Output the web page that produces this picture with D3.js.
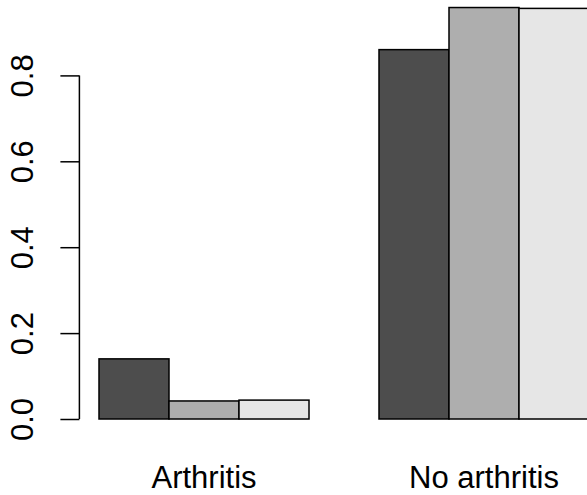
<!DOCTYPE html>
<html>
<head>
<meta charset="utf-8">
<script src="https://cdn.jsdelivr.net/npm/d3@7"></script>
<style>
  body { margin: 0; background: #fff; }
  text { font-family: "Liberation Sans", Arial, Helvetica, sans-serif; fill: #000; }
</style>
</head>
<body>
<script>
(function(d3) {
  "use strict";

  /***** Données *****/
  var groups = ["Arthritis", "No arthritis"];
  var seriesColors = ["#4D4D4D", "#AEAEAE", "#E6E6E6"];
  var arthritisValues = [0.14, 0.042, 0.044];
  var noArthritisValues = [0.86, 0.958, 0.956];
  var yTicks = [0, 0.2, 0.4, 0.6, 0.8];

  /***** Configuration *****/
  var width = 587;
  var height = 495;
  var fontSize = 31;

  var values = [arthritisValues, noArthritisValues];
  var nSeries = seriesColors.length;

  // Position des barres comme dans barplot(beside = TRUE) : un espace de 1 avant chaque groupe
  var bars = [];
  values.forEach(function(vals, g) {
    vals.forEach(function(v, i) {
      var left = 1 + g * (nSeries + 1) + i;
      bars.push({ group: g, series: i, value: v, left: left, right: left + 1 });
    });
  });
  var xMin = d3.min(bars, function(d) { return d.left; });
  var xMax = d3.max(bars, function(d) { return d.right; });
  var xPad = (xMax - xMin) * 0.04;
  var yMax = d3.max(bars, function(d) { return d.value; });
  var yPad = yMax * 0.04;

  /***** Échelles *****/
  var x = d3.scaleLinear()
    .domain([xMin - xPad, xMax + xPad])
    .range([79.4, 608.6]);
  var y = d3.scaleLinear()
    .domain([-yPad, yMax + yPad])
    .range([419 + yPad * 429.5, 419 - (yMax + yPad) * 429.5]);

  /***** Création des éléments *****/
  var svg = d3.select("body")
    .append("svg")
    .attr("width", width)
    .attr("height", height);

  // Barres
  svg.append("g")
    .selectAll("rect")
    .data(bars)
    .enter()
    .append("rect")
    .attr("x", function(d) { return x(d.left); })
    .attr("y", function(d) { return y(d.value); })
    .attr("width", function(d) { return x(d.right) - x(d.left); })
    .attr("height", function(d) { return y(0) - y(d.value); })
    .attr("fill", function(d) { return seriesColors[d.series]; })
    .attr("stroke", "#000")
    .attr("stroke-width", 1.5);

  // Axe vertical
  var yAxis = d3.axisLeft(y)
    .tickValues(yTicks)
    .tickSize(19)
    .tickFormat(d3.format(".1f"));

  var axisG = svg.append("g")
    .attr("transform", "translate(" + x(xMin - xPad) + ",0)")
    .call(yAxis);

  axisG.select(".domain")
    .attr("d", "M0," + y(yTicks[0]) + "V" + y(yTicks[yTicks.length - 1]))
    .attr("stroke", "#000")
    .attr("stroke-width", 1.5);
  axisG.selectAll(".tick line")
    .attr("stroke", "#000")
    .attr("stroke-width", 1.5);
  axisG.selectAll(".tick text")
    .attr("x", 0)
    .attr("y", 0)
    .attr("dy", null)
    .attr("transform", "translate(-46,0) rotate(-90)")
    .attr("text-anchor", "middle")
    .attr("font-family", "Liberation Sans, Arial, sans-serif")
    .attr("font-size", fontSize)
    .attr("fill", "#000");

  // Étiquettes des groupes
  svg.append("g")
    .selectAll("text")
    .data(groups)
    .enter()
    .append("text")
    .attr("x", function(d, g) {
      var gb = bars.filter(function(b) { return b.group === g; });
      return x((gb[0].left + gb[gb.length - 1].right) / 2);
    })
    .attr("y", 488)
    .attr("text-anchor", "middle")
    .attr("font-size", fontSize)
    .text(function(d) { return d; });
})(d3);
</script>
</body>
</html>
